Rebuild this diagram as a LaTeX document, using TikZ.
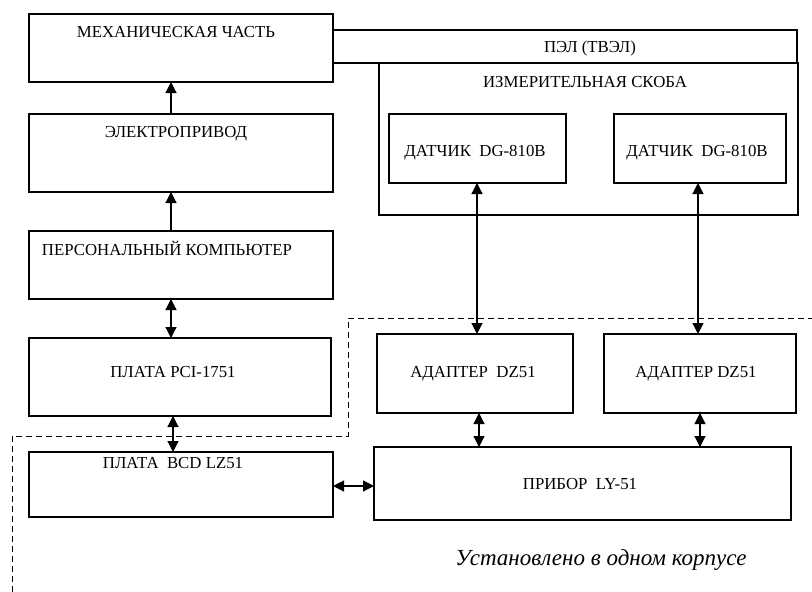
\documentclass[tikz,border=0pt]{standalone}
\usepackage{fontspec}
\setmainfont{Liberation Serif}
\usetikzlibrary{arrows.meta}
\tikzset{
  box/.style={draw, line width=1.1pt, inner sep=0pt, outer sep=0pt, anchor=north west},
  txt/.style={inner sep=0pt, anchor=base, font=\fontsize{16.8}{18}\selectfont},
  itx/.style={inner sep=0pt, anchor=base, font=\fontsize{23}{25}\selectfont\itshape},
  arr/.style={line width=1.2pt, -{Triangle[length=11pt,width=11pt]}},
  darr/.style={line width=1.2pt, {Triangle[length=11pt,width=11pt]}-{Triangle[length=11pt,width=11pt]}},
  dsh/.style={line width=1pt, dash pattern=on 6pt off 4pt}
}
\begin{document}
\begin{tikzpicture}[x=1pt,y=-1pt]
\useasboundingbox (0,0) rectangle (812,592);
% boxes
\node[box, minimum width=304pt, minimum height=68pt] (mech) at (29,14) {};
\node[box, minimum width=464pt, minimum height=33pt] (pel) at (333,30) {};
\node[box, minimum width=419pt, minimum height=152pt] (skoba) at (379,63) {};
\node[box, minimum width=177pt, minimum height=69pt] (d1) at (389,114) {};
\node[box, minimum width=172pt, minimum height=69pt] (d2) at (614,114) {};
\node[box, minimum width=304pt, minimum height=78pt] (elec) at (29,114) {};
\node[box, minimum width=304pt, minimum height=68pt] (pc) at (29,231) {};
\node[box, minimum width=302pt, minimum height=78pt] (pci) at (29,338) {};
\node[box, minimum width=304pt, minimum height=65pt] (bcd) at (29,452) {};
\node[box, minimum width=196pt, minimum height=79pt] (ad1) at (377,334) {};
\node[box, minimum width=192pt, minimum height=79pt] (ad2) at (604,334) {};
\node[box, minimum width=417pt, minimum height=73pt] (prib) at (374,447) {};
% texts
\node[txt] (mecht) at (176,37.5) {МЕХАНИЧЕСКАЯ ЧАСТЬ};
\node[txt] (pelt) at (590,52.5) {ПЭЛ (ТВЭЛ)};
\node[txt] (skobat) at (585,87.5) {ИЗМЕРИТЕЛЬНАЯ СКОБА};
\node[txt] (d1t) at (475,156.5) {ДАТЧИК\ \ DG-810B};
\node[txt] (d2t) at (697,156.5) {ДАТЧИК\ \ DG-810B};
\node[txt] (elect) at (176,137.5) {ЭЛЕКТРОПРИВОД};
\node[txt] (pct) at (167,255) {ПЕРСОНАЛЬНЫЙ КОМПЬЮТЕР};
\node[txt] (pcit) at (173,377.5) {ПЛАТА PCI-1751};
\node[txt] (bcdt) at (173,468) {ПЛАТА\ \ BCD LZ51};
\node[txt] (ad1t) at (473,377.5) {АДАПТЕР\ \ DZ51};
\node[txt] (ad2t) at (696,377.5) {АДАПТЕР DZ51};
\node[txt] (pribt) at (580,489) {ПРИБОР\ \ LY-51};
\node[itx] (note) at (601,565) {Установлено в одном корпусе};
% helper coordinates
\coordinate (xa) at (171,0);
\coordinate (xb) at (173,0);
\coordinate (xc) at (477,0);
\coordinate (xd) at (698,0);
\coordinate (xe) at (479,0);
\coordinate (xf) at (700,0);
\coordinate (yh) at (0,486);
% connectors
\draw[arr] (elec.north -| xa) -- (mech.south -| xa);
\draw[arr] (pc.north -| xa) -- (elec.south -| xa);
\draw[darr] (pc.south -| xa) -- (pci.north -| xa);
\draw[darr] (pci.south -| xb) -- (bcd.north -| xb);
\draw[darr] (d1.south -| xc) -- (ad1.north -| xc);
\draw[darr] (d2.south -| xd) -- (ad2.north -| xd);
\draw[darr] (ad1.south -| xe) -- (prib.north -| xe);
\draw[darr] (ad2.south -| xf) -- (prib.north -| xf);
\draw[darr] (bcd.east |- yh) -- (prib.west |- yh);
% dashed enclosure
\coordinate (p1) at (12,592);
\coordinate (p2) at (12,436);
\coordinate (p3) at (348,436);
\coordinate (p4) at (348,318);
\coordinate (p5) at (812,318);
\draw[dsh] (p1) -- (p2) -- (p3) -- (p4) -- (p5);
\end{tikzpicture}
\end{document}
